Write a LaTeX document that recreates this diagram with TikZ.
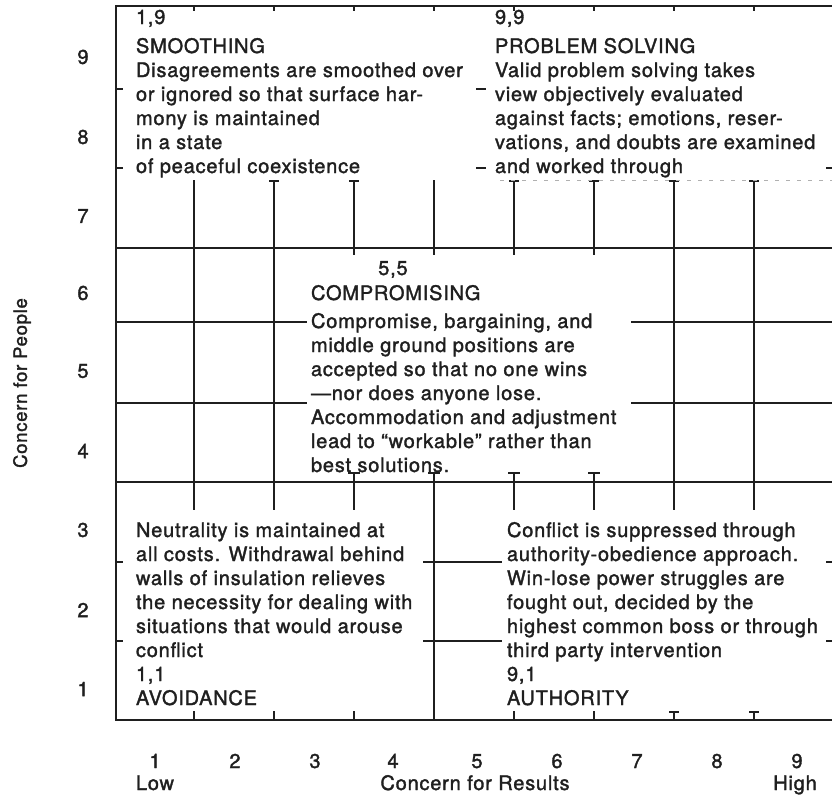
\documentclass[tikz,border=0pt]{standalone}
\usepackage{fontspec}
\setmainfont{TeX Gyre Heros}[LetterSpace=4.0, FakeBold=1.6]
\definecolor{ink}{gray}{0.12}
\newcommand\bodyfont{\fontsize{20}{24}\selectfont}
\tikzset{
  rule/.style={line width=1.9pt, draw=ink},
  capbar/.style={line width=1.4pt, draw=ink},
  faint/.style={line width=0.8pt, draw=ink!35, dash pattern=on 4pt off 7pt},
  block/.style={inner sep=0pt, outer sep=0pt, text=ink, font=\bodyfont, align=left, anchor=north west},
  lbl/.style={inner sep=0pt, outer sep=0pt, text=ink, font=\bodyfont},
}
\begin{document}
\begin{tikzpicture}[x=1pt, y=-1pt]
\useasboundingbox (0,0) rectangle (832,795);
\clip (0,0) rectangle (832,795);
\fill[white] (0,0) rectangle (832,795);

% ---- outer frame and the two full-width rules
\draw[rule] (840,6) -- (116,6) -- (116,720) -- (840,720);
\draw[rule] (116,248) -- (840,248);
\draw[rule] (116,482) -- (840,482);

% ---- upper band (rows 7-9)
\foreach \x in {194,274,354,434,514,594,674,754}
  \draw[rule] (\x,180) -- (\x,248);
\foreach \x in {274,354,514,594,674,754}
  \draw[capbar] (\x-5,181) -- (\x+5,181);
\foreach \x in {194,274,354,434,514,594,674,754}
  \draw[rule] (\x,6) -- (\x,11);
\foreach \y in {89,168} {
  \draw[rule] (116,\y) -- (123,\y);
  \draw[rule] (476,\y) -- (486,\y);
}
\draw[rule] (826,168) -- (840,168);
\draw[faint] (500,180) -- (832,180);

% ---- middle band (rows 4-6)
\foreach \x in {194,274,674,754}
  \draw[rule] (\x,248) -- (\x,482);
\foreach \x in {354,434,514,594}
  \draw[rule] (\x,248) -- (\x,255);
\foreach \y in {322,403} {
  \draw[rule] (116,\y) -- (307,\y);
  \draw[rule] (631,\y) -- (840,\y);
}
\foreach \x in {354,434,514,594} {
  \draw[rule] (\x,473) -- (\x,482);
  \draw[capbar] (\x-6,473) -- (\x+6,473);
}

% ---- lower band (rows 1-3)
\foreach \x in {194,274,354,514,594,674,754}
  \draw[rule] (\x,482) -- (\x,510);
\draw[rule] (434,482) -- (434,720);
\foreach \y in {562,641} {
  \draw[rule] (423,\y) -- (502,\y);
  \draw[rule] (116,\y) -- (123,\y);
  \draw[rule] (826,\y) -- (840,\y);
}
\foreach \x in {194,274,354,514,594,674,754}
  \draw[rule] (\x,711) -- (\x,720);
\foreach \x in {674,754}
  \draw[capbar] (\x-5,712) -- (\x+5,712);

% ---- style descriptions
\node[block] (smoothing) at (136,7.2) {\strut 1,9\\[5pt]
  SMOOTHING\\
  Disagreements are smoothed over\\
  or ignored so that surface har-\\
  mony is maintained\\
  in a state\\
  of peaceful coexistence};

\node[block] (solving) at (495,7.2) {\strut 9,9\\[5pt]
  PROBLEM SOLVING\\
  Valid problem solving takes\\
  view objectively evaluated\\
  against facts; emotions, reser-\\
  vations, and doubts are examined\\
  and worked through};

\node[lbl, anchor=base] (midlabel) at (393,275) {5,5};
\node[block] (compromising) at (311,283.2) {\strut COMPROMISING\\[4pt]
  Compromise, bargaining, and\\
  middle ground positions are\\
  accepted so that no one wins\\
  —nor does anyone lose.\\
  Accommodation and adjustment\\
  lead to “workable” rather than\\
  best solutions.};

\node[block] (avoidance) at (136,520.2) {\strut Neutrality is maintained at\\
  all costs. Withdrawal behind\\
  walls of insulation relieves\\
  the necessity for dealing with\\
  situations that would arouse\\
  conflict\\
  1,1\\
  AVOIDANCE};

\node[block] (authority) at (507,520.2) {\strut Conflict is suppressed through\\
  authority-obedience approach.\\
  Win-lose power struggles are\\
  fought out, decided by the\\
  highest common boss or through\\
  third party intervention\\
  9,1\\
  AUTHORITY};

% ---- axis scales
\foreach \n/\y in {1/689,2/610,3/530,4/451,5/371,6/293,7/216,8/137,9/57}
  \node[lbl] (row\n) at (83,\y) {\n};
\foreach \n/\x in {1/155,2/235,3/315,4/393,5/477,6/557,7/637,8/717,9/797}
  \node[lbl, anchor=base] (col\n) at (\x,768) {\n};
\node[lbl, anchor=base] (low) at (155,790) {Low};
\node[lbl, anchor=base] (results) at (475,790) {Concern for Results};
\node[lbl, anchor=base] (high) at (795,790) {High};
\node[lbl, rotate=90, font=\fontsize{18.5}{20}\selectfont] (people) at (22,383) {Concern for People};
\end{tikzpicture}
\end{document}
